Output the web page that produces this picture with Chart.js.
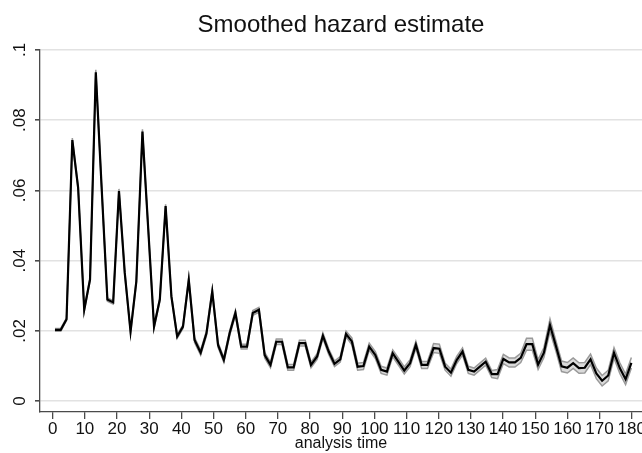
<!DOCTYPE html>
<html>
<head>
<meta charset="utf-8">
<script src="https://cdn.jsdelivr.net/npm/chart.js@4.4.1/dist/chart.umd.min.js"></script>
<style>
  html, body { margin: 0; padding: 0; background: #fff; }
  #wrap { width: 642px; height: 453px; }
</style>
</head>
<body>
<div id="wrap"><canvas id="hz" width="642" height="453"></canvas></div>
<script>
// ---- Data ----
const times = [
  0.7, 2.5, 4.3, 6.1, 7.9, 9.8, 11.6, 13.4, 15.2, 17.0,
  18.8, 20.6, 22.4, 24.2, 26.0, 27.9, 29.7, 31.5, 33.3, 35.1,
  36.9, 38.7, 40.5, 42.3, 44.1, 46.0, 47.8, 49.6, 51.4, 53.2,
  55.0, 56.8, 58.6, 60.4, 62.2, 64.1, 65.9, 67.7, 69.5, 71.3,
  73.1, 74.9, 76.7, 78.5, 80.3, 82.2, 84.0, 85.8, 87.6, 89.4,
  91.2, 93.0, 94.8, 96.6, 98.4, 100.3, 102.1, 103.9, 105.7, 107.5,
  109.3, 111.1, 112.9, 114.7, 116.5, 118.4, 120.2, 122.0, 123.8, 125.6,
  127.4, 129.2, 131.0, 132.8, 134.6, 136.5, 138.3, 140.1, 141.9, 143.7,
  145.5, 147.3, 149.1, 150.9, 152.7, 154.6, 156.4, 158.2, 160.0, 161.8,
  163.6, 165.4, 167.2, 169.0, 170.8, 172.7, 174.5, 176.3, 178.1, 179.9
];

const hazard = [
  .0203, .0203, .0233, .0743, .0608, .0260, .0346, .0936, .0610, .0289,
  .0281, .0598, .0365, .0198, .0341, .0767, .0490, .0212, .0289, .0555,
  .0298, .0184, .0212, .0345, .0174, .0138, .0193, .0312, .0160, .0117,
  .0193, .0251, .0155, .0155, .0251, .0260, .0131, .0103, .0169, .0169,
  .0096, .0096, .0165, .0165, .0103, .0127, .0186, .0141, .0106, .0119,
  .0191, .0170, .0098, .0100, .0155, .0131, .0089, .0084, .0136, .0112,
  .0087, .0108, .0160, .0103, .0103, .0151, .0149, .0098, .0081, .0117,
  .0141, .0089, .0084, .0098, .0112, .0077, .0077, .0120, .0110, .0110,
  .0123, .0162, .0162, .0104, .0138, .0216, .0158, .0099, .0095, .0108,
  .0094, .0095, .0119, .0079, .0058, .0073, .0137, .0094, .0062, .0109
];

const lower = [
  .0199, .0199, .0229, .0737, .0603, .0256, .0342, .0929, .0605, .0284,
  .0276, .0592, .0360, .0193, .0336, .0760, .0485, .0207, .0284, .0550,
  .0293, .0179, .0207, .0338, .0167, .0131, .0186, .0305, .0153, .0110,
  .0186, .0244, .0148, .0148, .0244, .0253, .0123, .0095, .0161, .0161,
  .0088, .0088, .0157, .0157, .0095, .0119, .0178, .0133, .0098, .0111,
  .0183, .0160, .0088, .0090, .0145, .0121, .0079, .0074, .0126, .0102,
  .0077, .0098, .0150, .0093, .0093, .0138, .0136, .0088, .0071, .0107,
  .0131, .0079, .0074, .0088, .0102, .0067, .0064, .0107, .0097, .0097,
  .0110, .0145, .0145, .0090, .0124, .0198, .0143, .0084, .0080, .0093,
  .0079, .0080, .0104, .0064, .0043, .0058, .0122, .0079, .0047, .0094
];

const upper = [
  .0207, .0207, .0237, .0749, .0613, .0264, .0350, .0943, .0615, .0294,
  .0286, .0604, .0370, .0203, .0346, .0774, .0495, .0217, .0294, .0560,
  .0303, .0189, .0217, .0352, .0181, .0145, .0200, .0319, .0167, .0124,
  .0200, .0258, .0162, .0162, .0258, .0267, .0139, .0111, .0177, .0177,
  .0104, .0104, .0173, .0173, .0111, .0135, .0194, .0149, .0114, .0127,
  .0199, .0180, .0108, .0110, .0165, .0141, .0099, .0094, .0146, .0122,
  .0097, .0118, .0170, .0113, .0113, .0164, .0162, .0108, .0091, .0127,
  .0151, .0099, .0094, .0108, .0122, .0087, .0090, .0133, .0123, .0123,
  .0136, .0179, .0179, .0118, .0152, .0234, .0173, .0114, .0110, .0123,
  .0109, .0110, .0134, .0094, .0073, .0088, .0152, .0109, .0077, .0124
];

const xTicks = [0, 10, 20, 30, 40, 50, 60, 70, 80, 90, 100, 110, 120, 130, 140, 150, 160, 170, 180];
const yTicks = [0, .02, .04, .06, .08, .1];
const yTickLabels = ["0", ".02", ".04", ".06", ".08", ".1"];

const titleText = "Smoothed hazard estimate";
const xTitle = "analysis time";

// ---- Helpers ----
const pts = arr => times.map((t, i) => ({ x: t, y: arr[i] }));
const FONT = "'Liberation Sans', Arial, sans-serif";
const axisColor = "#4a4a4a";

// ---- Chart ----
const ctx = document.getElementById("hz").getContext("2d");

new Chart(ctx, {
  type: "line",
  data: {
    datasets: [
      {
        label: "upper",
        data: pts(upper),
        borderColor: "#9a9a9a",
        borderWidth: 1.5,
        backgroundColor: "#dadada",
        fill: "+1",
        pointRadius: 0,
        tension: 0,
        order: 2
      },
      {
        label: "lower",
        data: pts(lower),
        borderColor: "#9a9a9a",
        borderWidth: 1.5,
        fill: false,
        pointRadius: 0,
        tension: 0,
        order: 1
      },
      {
        label: "hazard",
        data: pts(hazard),
        borderColor: "#000",
        borderWidth: 2.2,
        fill: false,
        pointRadius: 0,
        tension: 0,
        order: 0
      }
    ]
  },
  options: {
    responsive: false,
    animation: false,
    layout: { padding: 0 },
    plugins: {
      legend: { display: false },
      tooltip: { enabled: false },
      title: {
        display: true,
        text: titleText,
        fullSize: false,
        color: "#111",
        font: { family: FONT, size: 24, weight: "normal", lineHeight: 1.2 },
        padding: { top: 11, bottom: 10 }
      }
    },
    scales: {
      x: {
        type: "linear",
        min: -3.95,
        max: 183.2,
        afterBuildTicks: s => { s.ticks = xTicks.map(v => ({ value: v })); },
        afterFit: s => { s.height = 41; s.paddingLeft = 0; s.paddingRight = 0; },
        border: { color: axisColor, width: 1.3 },
        grid: { drawOnChartArea: false, drawTicks: true, tickLength: 7, tickColor: axisColor, lineWidth: 1.3 },
        ticks: {
          autoSkip: false,
          maxRotation: 0,
          padding: 0,
          color: "#111",
          font: { family: FONT, size: 17 },
          callback: v => String(v)
        },
        title: {
          display: true,
          text: xTitle,
          color: "#111",
          font: { family: FONT, size: 16, lineHeight: 1.2 },
          padding: 0
        }
      },
      y: {
        type: "linear",
        min: -0.0031,
        max: 0.1,
        afterBuildTicks: s => { s.ticks = yTicks.map(v => ({ value: v })); },
        afterFit: s => { s.width = 40; s.paddingTop = 0; s.paddingBottom = 0; },
        border: { color: axisColor, width: 1.3 },
        grid: { color: "#e2e2e2", lineWidth: 1.6, drawTicks: true, tickLength: 5, tickColor: axisColor },
        ticks: {
          minRotation: 90,
          maxRotation: 90,
          crossAlign: "center",
          padding: 3,
          color: "#111",
          font: { family: FONT, size: 17 },
          callback: v => yTickLabels[yTicks.indexOf(v)] ?? ""
        }
      }
    }
  }
});
</script>
</body>
</html>
